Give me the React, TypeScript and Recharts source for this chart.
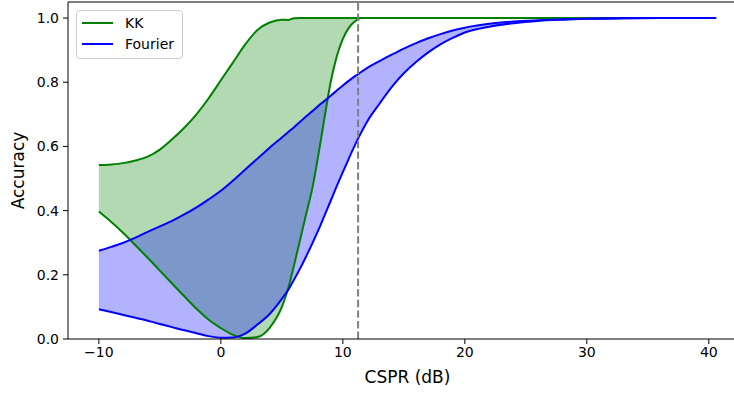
import React from 'react';
import { ComposedChart, Area, Line, XAxis, YAxis, ReferenceLine, Label } from 'recharts';

// CSPR sample points (dB)
const cspr = [
  -10, -9, -8, -7, -6, -5, -4, -3, -2, -1, 0, 1, 2, 3, 4, 5, 5.5, 6, 6.5, 7,
  7.5, 8, 8.5, 9, 9.5, 10, 10.5, 11, 11.5, 12, 13, 14, 15, 16, 17, 18, 19, 20, 22, 24,
  26, 28, 30, 33, 36, 40.6,
];

const kkHigh = [
  0.542, 0.544, 0.548, 0.556, 0.568, 0.59, 0.622, 0.658, 0.7, 0.75, 0.806, 0.862, 0.918, 0.963, 0.986, 0.995, 0.994, 0.999, 1, 1,
  1, 1, 1, 1, 1, 1, 1, 1, 1, 1, 1, 1, 1, 1, 1, 1, 1, 1, 1, 1,
  1, 1, 1, 1, 1, 1,
];
const kkLow = [
  0.397, 0.365, 0.33, 0.292, 0.253, 0.213, 0.173, 0.133, 0.094, 0.06, 0.034, 0.013, 0.003, 0.006, 0.035, 0.1, 0.155, 0.23, 0.31, 0.39,
  0.47, 0.575, 0.69, 0.8, 0.88, 0.935, 0.97, 0.99, 1, 1, 1, 1, 1, 1, 1, 1, 1, 1, 1, 1,
  1, 1, 1, 1, 1, 1,
];

const fourierHigh = [
  0.275, 0.287, 0.3, 0.316, 0.334, 0.351, 0.368, 0.388, 0.41, 0.435, 0.462, 0.494, 0.528, 0.562, 0.596, 0.628, 0.644, 0.66, 0.677, 0.694,
  0.71, 0.727, 0.742, 0.758, 0.774, 0.79, 0.805, 0.819, 0.832, 0.845, 0.866, 0.886, 0.905, 0.922, 0.937, 0.95, 0.961, 0.97, 0.982, 0.989,
  0.993, 0.996, 0.998, 0.999, 1, 1,
];
const fourierLow = [
  0.0925, 0.084, 0.075, 0.066, 0.057, 0.047, 0.037, 0.027, 0.018, 0.009, 0.004, 0.005, 0.017, 0.045, 0.078, 0.125, 0.152, 0.185, 0.22, 0.258,
  0.298, 0.34, 0.385, 0.43, 0.476, 0.52, 0.563, 0.605, 0.643, 0.678, 0.733, 0.785, 0.828, 0.863, 0.893, 0.918, 0.938, 0.955, 0.973, 0.984,
  0.991, 0.995, 0.998, 0.999, 1, 1,
];

const xTicks = [-10, 0, 10, 20, 30, 40];
const yTicks = [0, 0.2, 0.4, 0.6, 0.8, 1.0];
const threshold = 11.25;

const legendItems = [
  { name: 'KK', color: 'green' },
  { name: 'Fourier', color: 'blue' },
];

const data = cspr.map((x, i) => ({
  x,
  kkBand: [kkLow[i], kkHigh[i]],
  fourierBand: [fourierLow[i], fourierHigh[i]],
  kkLow: kkLow[i],
  kkHigh: kkHigh[i],
  fourierLow: fourierLow[i],
  fourierHigh: fourierHigh[i],
}));

const FONT = 'DejaVu Sans, sans-serif';
const tickStyle = { fill: '#000', fontSize: 14, fontFamily: FONT };

function LegendBox() {
  return (
    <div
      style={{
        position: 'absolute',
        left: 76,
        top: 10,
        width: 107,
        height: 49,
        boxSizing: 'border-box',
        border: '1px solid #cccccc',
        borderRadius: 4,
        background: 'rgba(255,255,255,0.8)',
        paddingTop: 1,
        fontFamily: FONT,
        fontSize: 14,
        color: '#000',
      }}
    >
      {legendItems.map((item) => (
        <div key={item.name} style={{ display: 'flex', alignItems: 'center', height: 21.6 }}>
          <div style={{ width: 31, height: 2, background: item.color, marginLeft: 5, marginRight: 12 }} />
          <span>{item.name}</span>
        </div>
      ))}
    </div>
  );
}

export default function App() {
  return (
    <div style={{ position: 'fixed', left: 0, top: 0, width: 734, height: 394, overflow: 'hidden', background: '#fff' }}>
      <ComposedChart width={760} height={394} data={data} margin={{ top: 2, right: 13, bottom: 0, left: 0 }}>
        <XAxis
          dataKey="x"
          type="number"
          domain={[-12.53, 43.13]}
          allowDataOverflow
          ticks={xTicks}
          tickFormatter={(v: number) => (v < 0 ? `\u2212${-v}` : `${v}`)}
          tick={tickStyle}
          tickSize={5}
          tickMargin={3}
          height={55}
          axisLine={{ stroke: '#000' }}
          tickLine={{ stroke: '#000' }}
        >
          <Label value="CSPR (dB)" position="center" dy={10} style={{ fontSize: 17, fontFamily: FONT, fill: '#000' }} />
        </XAxis>
        <YAxis
          type="number"
          domain={[0, 1.05]}
          allowDataOverflow
          ticks={yTicks}
          tickFormatter={(v: number) => v.toFixed(1)}
          tick={tickStyle}
          tickSize={5}
          tickMargin={4}
          width={68}
          axisLine={{ stroke: '#000' }}
          tickLine={{ stroke: '#000' }}
        >
          <Label value="Accuracy" angle={-90} position="center" dx={-16} style={{ fontSize: 17, fontFamily: FONT, fill: '#000' }} />
        </YAxis>
        <ReferenceLine y={1.05} stroke="#000" />
        <Area dataKey="kkBand" type="monotone" stroke="none" fill="green" fillOpacity={0.3} isAnimationActive={false} activeDot={false} />
        <Line dataKey="kkHigh" type="monotone" stroke="green" strokeWidth={2} dot={false} activeDot={false} isAnimationActive={false} />
        <Line dataKey="kkLow" type="monotone" stroke="green" strokeWidth={2} dot={false} activeDot={false} isAnimationActive={false} />
        <Area dataKey="fourierBand" type="monotone" stroke="none" fill="blue" fillOpacity={0.3} isAnimationActive={false} activeDot={false} />
        <Line dataKey="fourierHigh" type="monotone" stroke="blue" strokeWidth={2} dot={false} activeDot={false} isAnimationActive={false} />
        <Line dataKey="fourierLow" type="monotone" stroke="blue" strokeWidth={2} dot={false} activeDot={false} isAnimationActive={false} />
        <ReferenceLine x={threshold} stroke="#808080" strokeWidth={2} strokeDasharray="7.4 3.2" />
      </ComposedChart>
      <LegendBox />
    </div>
  );
}
